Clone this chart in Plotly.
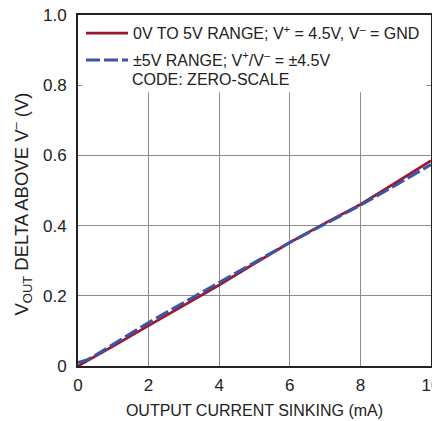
import plotly.graph_objects as go

x_red = [0, 0.5, 1, 2, 3, 4, 5, 6, 7, 8, 9, 10]
y_red = [0.0, 0.028, 0.057, 0.115, 0.172, 0.231, 0.292, 0.352, 0.407, 0.46, 0.522, 0.585]
x_blue = [0, 0.25, 0.5, 1, 2, 3, 4, 5, 6, 7, 8, 9, 10]
y_blue = [0.01, 0.017, 0.031, 0.062, 0.124, 0.181, 0.238, 0.296, 0.352, 0.405, 0.458, 0.515, 0.574]

red_name = "0V TO 5V RANGE; V<sup>+</sup> = 4.5V, V<sup>–</sup> = GND"
blue_name = "±5V RANGE; V<sup>+</sup>/V<sup>–</sup> = ±4.5V"
note = "CODE: ZERO-SCALE"
x_title = "OUTPUT CURRENT SINKING (mA)"
y_title = "V<sub>OUT</sub> DELTA ABOVE V<sup>–</sup> (V)"

x_ticks = [0, 2, 4, 6, 8, 10]
y_ticks = [0, 0.2, 0.4, 0.6, 0.8, 1.0]
y_ticklabels = ["0", "0.2", "0.4", "0.6", "0.8", "1.0"]

FONT = "Liberation Sans, Arial, sans-serif"
TXT = "#222"
RED = "#9d1830"
BLUE = "#3a55a6"

fig = go.Figure()
fig.add_trace(go.Scatter(x=x_red, y=y_red, mode="lines", name=red_name, legendgroup="a",
                         line=dict(color=RED, width=2.8)))
fig.add_trace(go.Scatter(x=x_blue, y=y_blue, mode="lines", name=blue_name, legendgroup="b",
                         line=dict(color=BLUE, width=3, dash="14px,4px")))

fig.add_shape(type="rect", xref="x", yref="y", x0=0.12, x1=9.88, y0=0.78, y1=1.0,
              fillcolor="white", line=dict(width=0), layer="between")

fig.add_annotation(x=0, y=1, xref="paper", yref="paper", xshift=52, yshift=-54,
                   text=note, showarrow=False, xanchor="left", yanchor="top",
                   font=dict(family=FONT, size=16, color=TXT))

fig.add_annotation(x=0, y=0.5, xref="paper", yref="paper", xshift=-56, yshift=-14,
                   text=y_title, showarrow=False, textangle=-90,
                   xanchor="center", yanchor="middle",
                   font=dict(family=FONT, size=18.5, color=TXT))

# the page body adds an 8px offset; figure is sized so the plot lands where the reference has it
fig.update_layout(
    width=432, height=413,
    margin=dict(l=70, r=9, t=7, b=55, autoexpand=False),
    paper_bgcolor="white", plot_bgcolor="white",
    font=dict(family=FONT, size=16, color=TXT),
    showlegend=True,
    legend=dict(xref="container", yref="container", x=0.169, y=0.98,
                xanchor="left", yanchor="top", bgcolor="rgba(0,0,0,0)",
                font=dict(family=FONT, size=16, color=TXT),
                itemwidth=42, tracegroupgap=3),
    xaxis=dict(range=[0, 10], tickvals=x_ticks, showgrid=True, gridcolor="#8c8c8c",
               gridwidth=1, showline=True, linecolor=TXT, linewidth=2, mirror=True,
               zeroline=False, ticks="", ticklabelstandoff=3,
               ticklabeloverflow="allow", tickfont=dict(size=17), automargin=False,
               title=dict(text=x_title, standoff=10,
                          font=dict(family=FONT, size=16, color=TXT))),
    yaxis=dict(range=[0, 1.0], tickvals=y_ticks, ticktext=y_ticklabels, showgrid=True,
               gridcolor="#8c8c8c", gridwidth=1, showline=True, linecolor=TXT,
               linewidth=2, mirror=True, zeroline=False, ticks="", automargin=False,
               ticklabelstandoff=6, ticklabeloverflow="allow", tickfont=dict(size=17)),
)

fig.write_html("out.html")
